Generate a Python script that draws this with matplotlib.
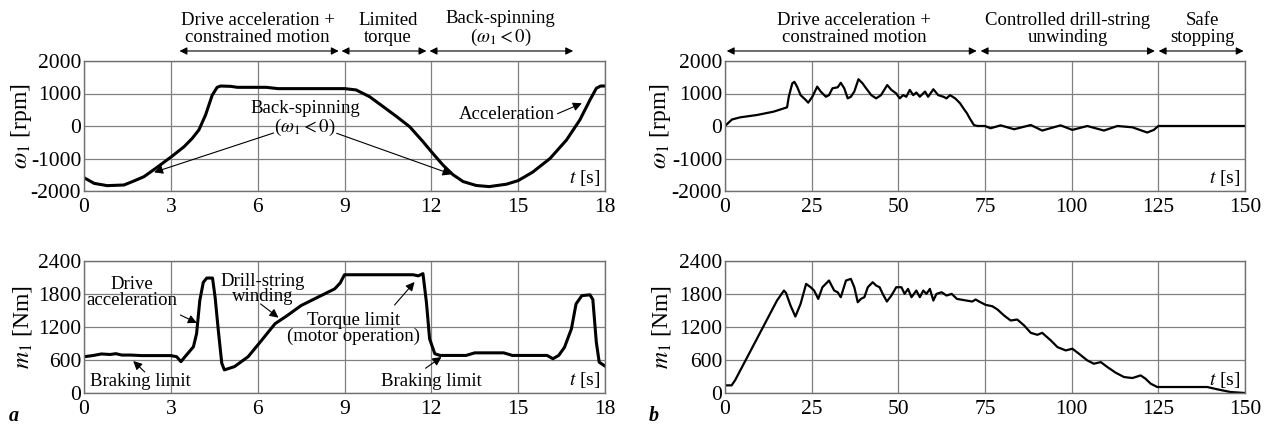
import matplotlib
matplotlib.use("Agg")
import matplotlib.pyplot as plt

# ---------------- data ----------------
# panel a: speed omega_1 [rpm] vs t [s]
ta_w = [0, 0.35, 0.8, 1.38, 1.73, 2.07, 2.48, 3.02, 3.46, 3.74, 3.97, 4.2, 4.43, 4.6, 4.72,
        5.07, 5.3, 6.3, 6.7, 8.5, 9.0, 9.4, 9.87, 10.33, 10.8, 11.25, 11.71, 12.0, 12.4, 12.75,
        13.1, 13.55, 14.0, 14.6, 15.0, 15.5, 16.1, 16.67, 17.13, 17.48, 17.7, 17.85, 18.0]
wa = [-1590, -1765, -1835, -1815, -1690, -1560, -1300, -945, -635, -380, -120, 340, 950, 1190, 1230,
      1220, 1190, 1190, 1150, 1150, 1150, 1110, 900, 600, 290, -20, -480, -790, -1200, -1500,
      -1710, -1830, -1865, -1790, -1680, -1420, -1000, -430, 185, 800, 1160, 1230, 1230]

# panel a: torque m_1 [Nm] vs t [s]
ta_m = [0, 0.3, 0.6, 0.9, 1.1, 1.3, 1.6, 2.0, 2.5, 3.0, 3.2, 3.35, 3.49, 3.78, 3.89,
        4.0, 4.12, 4.24, 4.44, 4.53, 4.64, 4.76, 4.85, 5.2, 5.67, 6.14, 6.6, 7.0, 7.5, 8.08,
        8.66, 8.85, 9.0, 10.5, 11.37, 11.55, 11.71, 11.83, 11.94, 12.12, 12.3, 13.2, 13.5, 14.5,
        14.8, 16.0, 16.2, 16.4, 16.6, 16.84, 17.0, 17.2, 17.48, 17.58, 17.7, 17.8, 18.0]
ma = [660, 680, 710, 700, 715, 690, 690, 680, 680, 680, 660, 570, 660, 840, 1080,
      1680, 2010, 2090, 2090, 1740, 1140, 540, 420, 480, 660, 960, 1260, 1400, 1590, 1742,
      1893, 2000, 2150, 2150, 2150, 2130, 2170, 1650, 985, 714, 683, 683, 730, 730,
      683, 683, 623, 683, 830, 1167, 1620, 1770, 1785, 1700, 925, 560, 490]

# panel b: speed omega_1 [rpm] vs t [s]
tb_w = [0, 2, 4.4, 9.2, 14, 17.9, 18.4, 19.4, 20, 20.8, 21.8, 23.3, 24, 25.2, 26.6, 27.6,
        29.1, 30, 31, 32.5, 33.4, 34.4, 35.4, 36.3, 37.3, 38.5, 39.7, 40.7, 42.2, 43.6, 45,
        46.8, 48, 49.4, 50.4, 51.4, 52.3, 53.3, 54.3, 55.2, 56.2, 57.7, 58.6, 60.1, 61.5, 63,
        63.9, 64.9, 66.4, 67.8, 68.8, 69.8, 70.6, 71.8, 72.8, 75, 76.6, 79.5, 83.4, 88.2, 91.5,
        96.8, 100.2, 104.5, 109.3, 113.2, 117.5, 121.8, 123.7, 125, 150]
wb = [0, 200, 267, 338, 441, 574, 900, 1310, 1360, 1210, 950, 800, 718, 900, 1210, 1060,
      900, 950, 1160, 1190, 1330, 1160, 850, 900, 1060, 1440, 1310, 1160, 950, 850, 950,
      1260, 1110, 1000, 850, 950, 900, 1110, 950, 1030, 900, 1060, 900, 1130, 950, 900,
      850, 950, 850, 700, 540, 390, 236, 30, 0, 0, -70, 20, -100, 30, -140,
      20, -120, 0, -140, 0, -40, -200, -120, 0, 0]

# panel b: torque m_1 [Nm] vs t [s]
tb_m = [0, 1.9, 2.9, 15, 17, 17.6, 18.9, 20.3, 21.8, 23.4, 24.7, 25.7, 26.9, 28.1, 30,
        31.5, 32.5, 33.4, 34.9, 36.3, 37.3, 38.3, 39.2, 40.2, 41.2, 42.6, 43.6, 44.6, 45.5, 46.7,
        48, 49.4, 50.9, 51.8, 52.8, 53.8, 55.2, 56.2, 57.2, 58.1, 59.1, 60.1, 61, 62.5, 63.9,
        65.4, 66.9, 68.8, 71.3, 72.3, 73.3, 75.2, 77.1, 78.6, 80.5, 82.4, 84.3, 86.3, 88.2, 90.1,
        91.5, 94, 95.9, 98.3, 100.2, 102.1, 104.5, 106.4, 108.4, 110.3, 112.7, 115.1, 117.5, 119.9,
        121.3, 122.8, 124.7, 139.1, 142, 145.8, 150]
mb = [139, 139, 230, 1681, 1863, 1820, 1590, 1390, 1620, 1984, 1923, 1863, 1711, 1923, 2045,
      1863, 1832, 1742, 2045, 2075, 1923, 1650, 1711, 1742, 1923, 2014, 1954, 1923, 1802, 1663,
      1772, 1923, 1923, 1802, 1893, 1742, 1863, 1742, 1863, 1802, 1893, 1681, 1802, 1832, 1772,
      1802, 1711, 1690, 1663, 1700, 1663, 1602, 1578, 1518, 1409, 1318, 1336, 1227, 1094, 1058,
      1094, 955, 834, 774, 805, 714, 593, 532, 562, 472, 369, 290, 272, 320, 260,
      169, 109, 109, 67, 18, 0]

xticks_a = [0, 3, 6, 9, 12, 15, 18]
xticks_b = [0, 25, 50, 75, 100, 125, 150]
yticks_w = [-2000, -1000, 0, 1000, 2000]
yticks_m = [0, 600, 1200, 1800, 2400]

phases_a = [("Drive acceleration +\nconstrained motion", 3.3, 8.8, 6.0),
            ("Limited\ntorque", 8.9, 11.83, 10.5),
            ("Back-spinning\n($\\omega_1 < 0$)", 11.94, 16.9, 14.4)]
phases_b = [("Drive acceleration +\nconstrained motion", 0.5, 72.6, 37.3),
            ("Controlled drill-string\nunwinding", 73.75, 124.0, 98.8),
            ("Safe\nstopping", 125.1, 149.6, 137.7)]

# ---------------- style ----------------
plt.rcParams['font.family'] = ['Liberation Serif', 'DejaVu Serif']
plt.rcParams['mathtext.fontset'] = 'stix'
plt.rcParams['axes.unicode_minus'] = False

FS = 13.5      # annotation text
TFS = 15.5     # tick labels
LFS = 17       # axis labels
fig = plt.figure(figsize=(12.7, 4.3), dpi=100)

W, H = 1270.0, 430.0
def axrect(x0, y0, x1, y1):
    return [x0 / W, 1 - y1 / H, (x1 - x0) / W, (y1 - y0) / H]

ax_aw = fig.add_axes(axrect(84, 61, 605, 191))
ax_am = fig.add_axes(axrect(84, 261, 605, 393))
ax_bw = fig.add_axes(axrect(725, 61, 1245, 191))
ax_bm = fig.add_axes(axrect(725, 261, 1245, 393))

def style(ax, xt, yt, ylabel, labx):
    ax.set_xlim(xt[0], xt[-1])
    ax.set_ylim(yt[0], yt[-1])
    ax.set_xticks(xt)
    ax.set_yticks(yt)
    ax.grid(True, color='#808080', lw=0.9)
    ax.set_axisbelow(True)
    ax.tick_params(direction='in', length=0, labelsize=TFS, pad=5)
    ax.tick_params(axis='y', pad=2)
    for s in ax.spines.values():
        s.set_color('#707070')
        s.set_linewidth(1.0)
    ax.set_ylabel(ylabel, fontsize=LFS)
    ax.yaxis.set_label_coords(labx, 0.5)
    ax.text(0.992, 0.1, '$t$ [s]', transform=ax.transAxes, ha='right', va='center',
            fontsize=FS + 0.5, zorder=5)

style(ax_aw, xticks_a, yticks_w, '$\\omega_1$ [rpm]', -0.096)
style(ax_am, xticks_a, yticks_m, '$m_1$ [Nm]', -0.096)
style(ax_bw, xticks_b, yticks_w, '$\\omega_1$ [rpm]', -0.100)
style(ax_bm, xticks_b, yticks_m, '$m_1$ [Nm]', -0.100)

ax_aw.plot(ta_w, wa, color='black', lw=2.2, solid_joinstyle='round')
ax_am.plot(ta_m, ma, color='black', lw=2.2, solid_joinstyle='round')
ax_bw.plot(tb_w, wb, color='black', lw=1.6, solid_joinstyle='round')
ax_bm.plot(tb_m, mb, color='black', lw=1.6, solid_joinstyle='round')

# phase headers
def headers(ax, phases):
    tr = ax.get_xaxis_transform()
    for label, x1, x2, xc in phases:
        ax.annotate('', xy=(x2, 1.077), xytext=(x1, 1.077), xycoords=tr, textcoords=tr,
                    arrowprops=dict(arrowstyle='<|-|>', lw=0.8, color='black',
                                    mutation_scale=11, shrinkA=0, shrinkB=0),
                    annotation_clip=False)
        ax.text(xc, 1.245, label, transform=tr, ha='center', va='center',
                fontsize=FS, linespacing=0.95, clip_on=False)

headers(ax_aw, phases_a)
headers(ax_bw, phases_b)

arrow = dict(arrowstyle='-|>', lw=0.8, color='black', mutation_scale=13, shrinkA=0, shrinkB=0)

# annotations panel a, speed
ax_aw.text(7.64, 220, 'Back-spinning\n($\\omega_1 < 0$)', ha='center', va='center',
           fontsize=FS, linespacing=0.95)
ax_aw.annotate('', xy=(2.42, -1425), xytext=(6.55, -215), arrowprops=arrow)
ax_aw.annotate('', xy=(12.7, -1486), xytext=(8.73, -225), arrowprops=arrow)
ax_aw.annotate('Acceleration', xy=(17.2, 700), xytext=(14.6, 340), ha='center', va='center',
               fontsize=FS, arrowprops=dict(arrow, relpos=(1.0, 0.5)))

# annotations panel a, torque
ax_am.text(1.65, 1830, 'Drive\nacceleration', ha='center', va='center', fontsize=FS,
           linespacing=0.9)
ax_am.annotate('', xy=(3.9, 1273), xytext=(3.33, 1418), arrowprops=arrow)
ax_am.text(6.16, 1890, 'Drill-string\nwinding', ha='center', va='center', fontsize=FS,
           linespacing=0.9)
ax_am.annotate('', xy=(6.72, 1370), xytext=(6.1, 1620), arrowprops=arrow)
ax_am.text(9.3, 1170, 'Torque limit\n(motor operation)', ha='center', va='center', fontsize=FS,
           linespacing=0.95)
ax_am.annotate('', xy=(11.42, 2018), xytext=(10.73, 1600), arrowprops=arrow)
ax_am.text(1.94, 218, 'Braking limit', ha='center', va='center', fontsize=FS)
ax_am.annotate('', xy=(1.7, 582), xytext=(2.1, 382), arrowprops=arrow)
ax_am.text(12.0, 218, 'Braking limit', ha='center', va='center', fontsize=FS)
ax_am.annotate('', xy=(12.35, 655), xytext=(11.8, 450), arrowprops=arrow)

fig.text(14 / W, 1 - 416 / H, 'a', fontsize=FS + 1, fontweight='bold', style='italic',
         ha='center', va='center')
fig.text(654 / W, 1 - 416 / H, 'b', fontsize=FS + 1, fontweight='bold', style='italic',
         ha='center', va='center')

fig.savefig('out.png', dpi=100)
